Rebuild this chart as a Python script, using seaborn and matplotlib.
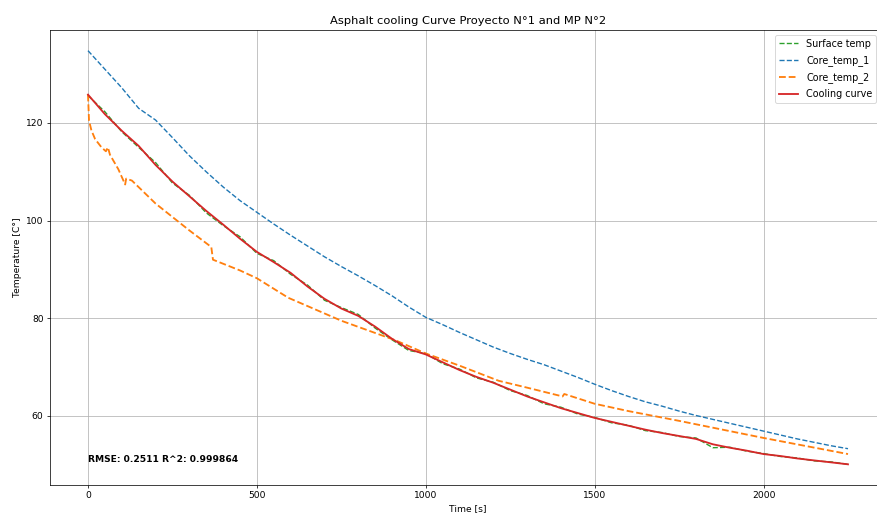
import pandas as pd
import seaborn as sns
import matplotlib.pyplot as plt

# time grid shared by surface temp, core_temp_1 and the cooling curve
time_s = [0, 50, 100, 150, 200, 250, 300, 350, 400, 450, 500, 550, 600, 650, 700,
          750, 800, 850, 900, 950, 1000, 1050, 1100, 1150, 1200, 1250, 1300, 1350,
          1400, 1450, 1500, 1550, 1600, 1650, 1700, 1750, 1800, 1850, 1900, 1950,
          2000, 2050, 2100, 2150, 2200, 2250]

surface_temp = [125.6, 122.3, 118.2, 115.0, 111.9, 107.7, 105.2, 101.6, 99.0, 96.7,
                93.3, 91.8, 89.0, 86.8, 83.7, 82.2, 80.8, 78.0, 75.6, 73.4,
                72.8, 70.7, 69.6, 67.8, 66.9, 65.2, 64.2, 62.5, 61.8, 60.4,
                59.7, 58.6, 58.1, 57.0, 56.6, 55.8, 55.5, 53.5, 53.6, 52.8,
                52.3, 51.7, 51.4, 50.8, 50.6, 50.1]

core_temp_1 = [134.8, 131.0, 127.2, 123.0, 120.6, 117.0, 113.3, 110.0, 106.9, 104.1,
               101.7, 99.3, 97.0, 94.8, 92.6, 90.6, 88.7, 86.7, 84.6, 82.3,
               80.2, 78.7, 77.1, 75.6, 74.1, 72.8, 71.6, 70.5, 69.2, 67.9,
               66.5, 65.2, 64.0, 62.9, 62.0, 61.0, 60.1, 59.3, 58.5, 57.7,
               56.9, 56.1, 55.3, 54.6, 53.9, 53.3]

cooling_curve = [125.8, 121.8, 118.4, 115.3, 111.4, 108.0, 105.0, 102.0, 99.2, 96.3,
                 93.6, 91.5, 89.3, 86.5, 84.0, 82.0, 80.5, 78.3, 75.8, 73.7,
                 72.6, 71.0, 69.4, 68.0, 66.8, 65.4, 64.0, 62.8, 61.6, 60.6,
                 59.6, 58.8, 58.0, 57.2, 56.5, 55.9, 55.3, 54.2, 53.5, 52.9,
                 52.2, 51.8, 51.3, 50.9, 50.5, 50.1]

# core_temp_2 has its own irregular sampling (steps and jumps)
time2_s = [0, 3, 10, 21, 40, 53, 59, 65, 90, 110, 113, 130, 200, 300, 365, 370,
           450, 500, 593, 650, 750, 850, 910, 1000, 1100, 1216, 1300, 1405, 1410,
           1500, 1600, 1750, 2000, 2250]
core_temp_2 = [125.8, 120.5, 118.5, 116.7, 115.0, 114.2, 115.0, 113.5, 110.5, 107.4,
               108.6, 108.2, 103.5, 98.0, 94.6, 92.0, 89.8, 88.2, 84.2, 82.5,
               79.5, 77.0, 75.5, 72.8, 70.3, 67.2, 65.8, 64.0, 64.5, 62.5,
               61.0, 59.0, 55.5, 52.2]

df = pd.DataFrame({'time': time_s, 'surface': surface_temp,
                   'core1': core_temp_1, 'fit': cooling_curve})
df2 = pd.DataFrame({'time': time2_s, 'core2': core_temp_2})

fig = plt.figure(figsize=(877 / 66, 518 / 66), dpi=66)
ax = fig.add_axes([50 / 877, 33 / 518, 836 / 877, 455 / 518])

sns.lineplot(data=df, x='time', y='surface', ax=ax, color='tab:green',
             linestyle='--', label='Surface temp', estimator=None, sort=False)
sns.lineplot(data=df, x='time', y='core1', ax=ax, color='tab:blue',
             linestyle='--', label='Core_temp_1', estimator=None, sort=False)
sns.lineplot(data=df2, x='time', y='core2', ax=ax, color='tab:orange',
             linestyle='--', lw=2, label='Core_temp_2', estimator=None, sort=False)
sns.lineplot(data=df, x='time', y='fit', ax=ax, color='tab:red',
             lw=2, label='Cooling curve', estimator=None, sort=False)

ax.text(0.045, 0.05, 'RMSE: 0.2511 R^2: 0.999864', transform=ax.transAxes,
        fontweight='bold')

ax.set_title('Asphalt cooling Curve Proyecto N°1 and MP N°2', fontsize=12.5)
ax.set_xlabel('Time [s]')
ax.set_ylabel('Temperature [C°]')
ax.set_yticks([60, 80, 100, 120])
ax.grid(True)
ax.legend(loc='upper right', bbox_to_anchor=(0.994, 1.0), fontsize=10.5,
          labelspacing=0.65)

fig.savefig('out.png', dpi=66)
